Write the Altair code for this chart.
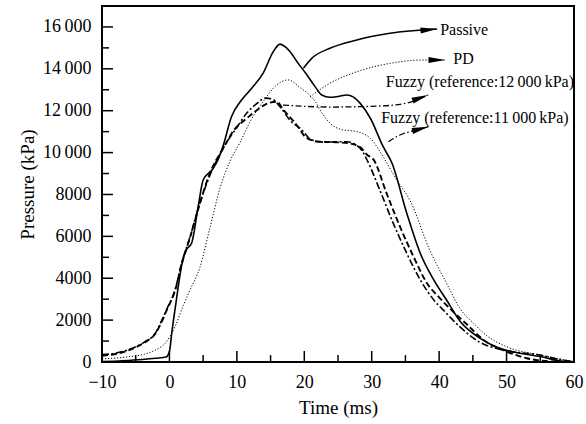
import altair as alt
import pandas as pd

# ---------------- data ----------------
passive_t = [-10, -7, -4, -2, -0.5, 0, 0.35, 1.0, 2.0, 2.5, 3.3, 4.3, 5.0, 6.3, 7.2, 8.0, 9.2, 10.7,
             12.2, 13.9, 15.4, 16.4, 17.2, 17.9, 19.1, 20.3, 21.6, 22.6, 23.8, 25.0, 26.3, 27.3, 28.3,
             29.8, 31.7, 33.0, 35.2, 37.2, 39.2, 41.1, 43.1, 46.1, 49.8, 52, 55, 58.4, 60]
passive_p = [20, 60, 120, 180, 240, 500, 1400, 2900, 4900, 5350, 5680, 7500, 8690, 9170, 9650, 10360,
             11710, 12510, 13070, 13790, 14820, 15180, 15050, 14820, 14260, 13750, 13150, 12750, 12640,
             12680, 12750, 12650, 12350, 11640, 10280, 9500, 7100, 5190, 3920, 2960, 1950, 1130, 570,
             420, 260, 30, 0]

pd_t = [-10, -6, -4, -2.1, -0.65, 0.83, 2.06, 3.0, 4.5, 6.0, 7.5, 9.0, 10.5, 12.0, 13.9, 15.9, 17.6,
        19.4, 20.6, 21.6, 22.6, 24.0, 25.5, 27.8, 29.8, 31.7, 33.7, 35.7, 38.6, 41.1, 43.1, 45.1, 47.1,
        50, 55, 59.4, 60]
pd_p = [150, 250, 350, 570, 890, 1690, 2700, 3400, 4500, 6400, 8300, 9600, 10500, 11500, 12430, 13230,
        13470, 13100, 12800, 12450, 11900, 11350, 11100, 11000, 10680, 9800, 8700, 7700, 5350, 3760,
        2550, 1850, 1250, 730, 330, 60, 20]

fz12_t = [-10, -8, -5, -3.6, -2.1, -0.9, -0.4, 0.83, 1.8, 3.06, 4.5, 5.8, 8.25, 10, 11.5, 13, 14.2,
          15.3, 16.5, 18, 19.4, 21.1, 23, 26.3, 28.3, 29.3, 31.2, 33.2, 35.2, 37.2, 39, 41, 43, 46, 50,
          55, 58, 60]
fz12_p = [350, 420, 730, 970, 1370, 2160, 2520, 3440, 4710, 5980, 7580, 8750, 10360, 11200, 11900,
          12350, 12600, 12550, 12150, 11500, 11160, 10600, 10500, 10520, 10200, 9650, 8210, 6620, 5190,
          3920, 3050, 2350, 1700, 950, 540, 330, 110, 30]

fz11_t = [-10, -8, -5, -3.6, -2.1, -0.9, -0.4, 0.83, 1.8, 3.06, 4.5, 5.8, 8.25, 9.4, 11.5, 12.4, 14.6,
          15.9, 17.0, 18.4, 19.4, 20.1, 22.1, 24.1, 26.5, 28.3, 29.3, 30.3, 32.2, 34.2, 36.2, 38.2, 40.1,
          41.6, 44.1, 46.6, 50, 53, 56.5, 60]
fz11_p = [300, 380, 700, 950, 1350, 2100, 2480, 3400, 4650, 5950, 7550, 8850, 10360, 11000, 11640,
          11880, 12350, 12430, 12000, 11500, 11080, 10760, 10520, 10500, 10450, 10250, 9900, 9650, 8060,
          6460, 5030, 3760, 3050, 2550, 1800, 1050, 500, 180, 30, 0]

# annotation arrows
arrow_passive_t = [19.87, 21.1, 23.8, 27.8, 32.7, 39.7]
arrow_passive_p = [14025, 14500, 14980, 15375, 15695, 15900]
arrow_pd_t = [20.86, 23.8, 27.8, 32.7, 37.6, 40.9]
arrow_pd_p = [12670, 13310, 13860, 14260, 14420, 14420]
arrow_fz12_t = [16.85, 23.83, 31.25, 35.25, 38.37]
arrow_fz12_p = [12270, 12175, 12225, 12370, 12750]
arrow_fz11_t = [32.48, 34.2, 35.7, 38.41]
arrow_fz11_p = [10520, 10840, 11000, 11235]

label_texts = ["Passive", "PD", "Fuzzy (reference:12\u2009000\u2009kPa)", "Fuzzy (reference:11\u2009000\u2009kPa)"]
label_t = [40.15, 42.1, 32.1, 31.4]
label_p = [15850, 14470, 13370, 11650]
head_t = [39.7, 40.9, 38.37, 38.41]
head_p = [15900, 14420, 12750, 11235]
head_angle = [355, 0, 340, 345]

x_major = [0, 10, 20, 30, 40, 50]
x_minor = [-5, 5, 15, 25, 35, 45, 55]
y_major = [2000, 4000, 6000, 8000, 10000, 12000, 14000, 16000]
y_minor = [1000, 3000, 5000, 7000, 9000, 11000, 13000, 15000]

FONT = "Liberation Serif"

# ---------------- encodings ----------------
x_enc = alt.X("t:Q", scale=alt.Scale(domain=[-10, 60], nice=False, zero=False),
              axis=alt.Axis(values=[-10, 0, 10, 20, 30, 40, 50, 60], title="Time (ms)",
                            ticks=False, domain=False, grid=False, labelFlush=False,
                            labelOverlap=False, labelPadding=11, labelFontSize=18, labelFont=FONT,
                            labelColor="black", titleFont=FONT, titleFontSize=19,
                            titleFontWeight="normal", titleColor="black", titlePadding=7))
y_enc = alt.Y("p:Q", scale=alt.Scale(domain=[0, 17000], nice=False),
              axis=alt.Axis(values=[0] + y_major, title="Pressure (kPa)", ticks=False, domain=False,
                            grid=False, labelOverlap=False, labelPadding=11, labelFontSize=18,
                            labelFont=FONT, labelColor="black",
                            labelExpr="datum.value >= 10000 ? format(floor(datum.value/1000),'d') + '\u2009000' : format(datum.value,'d')",
                            titleFont=FONT, titleFontSize=19, titleFontWeight="normal",
                            titleColor="black", titlePadding=5))


def series_df(ts, ps):
    return pd.DataFrame({"t": ts, "p": ps, "o": list(range(len(ts)))})


def line_layer(ts, ps, width, dash=None):
    kw = dict(color="black", strokeWidth=width, interpolate="monotone", clip=True)
    if dash:
        kw["strokeDash"] = dash
    return alt.Chart(series_df(ts, ps)).mark_line(**kw).encode(
        x=x_enc, y=y_enc, order="o:Q")


# ticks (inward)
xt = pd.DataFrame({"t": x_major + x_minor,
                   "p": [0] * (len(x_major) + len(x_minor)),
                   "p2": [525] * len(x_major) + [330] * len(x_minor)})
yt = pd.DataFrame({"p": y_major + y_minor,
                   "t": [-10] * (len(y_major) + len(y_minor)),
                   "t2": [-10 + 11 / 6.74] * len(y_major) + [-10 + 7 / 6.74] * len(y_minor)})
xticks = alt.Chart(xt).mark_rule(color="black", strokeWidth=1.5).encode(x=x_enc, y=y_enc, y2="p2:Q")
yticks = alt.Chart(yt).mark_rule(color="black", strokeWidth=1.5).encode(x=x_enc, x2="t2:Q", y=y_enc)

passive = line_layer(passive_t, passive_p, 1.6)
pdl = line_layer(pd_t, pd_p, 1.0, [1.2, 1.8])
fz12 = line_layer(fz12_t, fz12_p, 1.6, [7, 2.5, 2, 2.5])
fz11 = line_layer(fz11_t, fz11_p, 1.9, [6, 3])

a_passive = line_layer(arrow_passive_t, arrow_passive_p, 1.5)
a_pd = line_layer(arrow_pd_t, arrow_pd_p, 1.0, [1.2, 1.8])
a_fz12 = line_layer(arrow_fz12_t, arrow_fz12_p, 1.3, [6, 2.5, 1.5, 2.5])
a_fz11 = line_layer(arrow_fz11_t, arrow_fz11_p, 1.3, [6, 2.5, 1.5, 2.5])

heads = alt.Chart(pd.DataFrame({"t": head_t, "p": head_p, "a": head_angle})).mark_point(
    shape="M0,0L-2.3,-0.42L-2.3,0.42Z", filled=True, color="black", opacity=1, size=210,
    strokeWidth=0).encode(x=x_enc, y=y_enc, angle=alt.Angle("a:Q", scale=None))

labels = alt.Chart(pd.DataFrame({"t": label_t, "p": label_p, "txt": label_texts})).mark_text(
    align="left", baseline="middle", font=FONT, fontSize=16, color="black").encode(
    x=x_enc, y=y_enc, text="txt:N")

chart = alt.layer(xticks, yticks, pdl, fz12, fz11, passive, a_passive, a_pd, a_fz12, a_fz11,
                  heads, labels).properties(
    width=472, height=356, autosize="none",
    padding={"left": 102, "top": 6, "right": 12, "bottom": 62},
    background="white",
).configure_view(stroke="black", strokeWidth=2)

chart.save("out.html", embed_options={"renderer": "svg", "actions": False})
